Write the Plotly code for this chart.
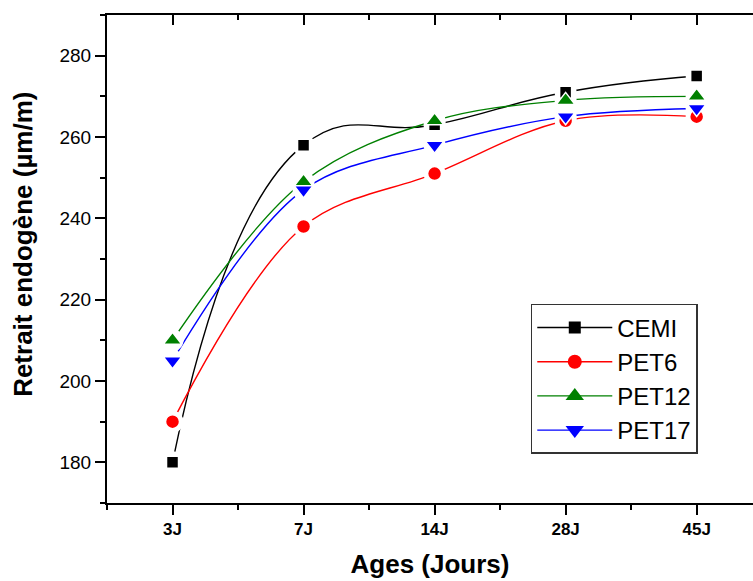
import plotly.graph_objects as go

ages = ["3J", "7J", "14J", "28J", "45J"]
cemi = [180, 258, 263, 271, 275]
pet6 = [190, 238, 251, 264, 265]
pet12 = [210, 249, 264, 269, 270]
pet17 = [205, 247, 258, 265, 267]

y_ticks = [180, 200, 220, 240, 260, 280]

series = [
    ("CEMI", cemi, "black", "square", 12, 1.3),
    ("PET6", pet6, "#ff0000", "circle", 14, 1.0),
    ("PET12", pet12, "#008000", "triangle-up", 16, 1.0),
    ("PET17", pet17, "#0000ff", "triangle-down", 16, 1.0),
]

xidx = list(range(len(ages)))
FONT = "Liberation Sans, Arial, sans-serif"

fig = go.Figure()
# curves
for name, vals, col, sym, sz, sm in series:
    fig.add_trace(go.Scatter(
        x=xidx, y=vals, mode="lines", showlegend=False, hoverinfo="skip",
        line=dict(color=col, width=1.4, shape="spline", smoothing=sm),
    ))
# white halos that break the curves near the symbols
for name, vals, col, sym, sz, sm in series:
    fig.add_trace(go.Scatter(
        x=xidx, y=vals, mode="markers", showlegend=False, hoverinfo="skip",
        marker=dict(symbol="circle", size=22, color="white"),
    ))
# symbols
for name, vals, col, sym, sz, sm in series:
    fig.add_trace(go.Scatter(
        x=xidx, y=vals, mode="markers", name=name, showlegend=False,
        marker=dict(symbol=sym, size=sz, color=col, line=dict(color="white", width=1.5)),
    ))
# legend entries
for name, vals, col, sym, sz, sm in series:
    fig.add_trace(go.Scatter(
        x=[None], y=[None], mode="lines+markers", name=name,
        line=dict(color=col, width=1.4),
        marker=dict(symbol=sym, size=sz, color=col),
    ))

# invisible trace to materialise the top axis
fig.add_trace(go.Scatter(x=xidx, y=cemi, xaxis="x2", yaxis="y", mode="markers",
                         marker=dict(opacity=0), showlegend=False, hoverinfo="skip"))

xr = [-0.5, 4.43]
fig.update_layout(
    width=753, height=581,
    margin=dict(l=107, r=0, t=15, b=78),
    paper_bgcolor="white", plot_bgcolor="white",
    font=dict(family=FONT, color="black"),
    showlegend=True,
    legend=dict(
        x=0.656, y=0.408, xanchor="left", yanchor="top",
        bgcolor="white", bordercolor="#333333", borderwidth=1.5,
        font=dict(size=24, family=FONT, color="black"),
        itemwidth=75, tracegroupgap=0,
    ),
    xaxis=dict(
        range=xr, tickmode="array", tickvals=xidx, ticktext=ages,
        showline=True, linecolor="black", linewidth=2,
        ticks="outside", ticklen=10, tickwidth=2, tickcolor="black",
        tickfont=dict(size=17, family=FONT, weight="bold"),
        minor=dict(tickmode="linear", tick0=0, dtick=0.5, ticks="outside",
                   ticklen=5, tickwidth=2, tickcolor="black"),
        showgrid=False, zeroline=False,
        title=dict(text="<b>Ages (Jours)</b>", font=dict(size=26, family=FONT), standoff=16),
    ),
    xaxis2=dict(
        range=xr, overlaying="x", side="top", anchor="y",
        tickmode="array", tickvals=xidx, showticklabels=False,
        showline=True, linecolor="black", linewidth=2,
        ticks="inside", ticklen=10, tickwidth=2, tickcolor="black",
        minor=dict(tickmode="linear", tick0=0, dtick=0.5, ticks="inside",
                   ticklen=5, tickwidth=2, tickcolor="black"),
        showgrid=False, zeroline=False,
    ),
    yaxis=dict(
        range=[170, 290], tickmode="array", tickvals=y_ticks,
        showline=True, linecolor="black", linewidth=2,
        ticks="outside", ticklen=10, tickwidth=2, tickcolor="black",
        tickfont=dict(size=19, family=FONT),
        minor=dict(tickmode="linear", tick0=170, dtick=10, ticks="outside",
                   ticklen=5, tickwidth=2, tickcolor="black"),
        showgrid=False, zeroline=False,
    ),
    annotations=[dict(
        text="<b>Retrait endogène (µm/m)</b>", textangle=-90,
        xref="paper", yref="paper", x=-0.13, y=0.529,
        xanchor="center", yanchor="middle", showarrow=False,
        font=dict(size=26, family=FONT, color="black"),
    )],
)

fig.write_html("out.html")
